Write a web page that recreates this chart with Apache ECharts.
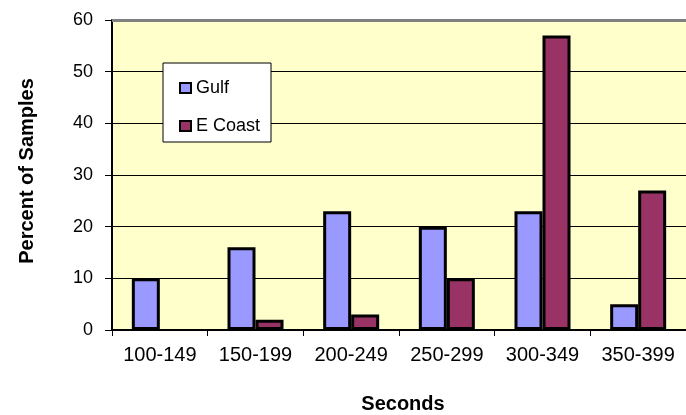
<!DOCTYPE html>
<html>
<head>
<meta charset="utf-8">
<script src="https://cdn.jsdelivr.net/npm/echarts@6/dist/echarts.min.js"></script>
<style>html,body{margin:0;padding:0;background:#fff;}#c{width:686px;height:415px;}</style>
</head>
<body>
<div id="c"></div>
<script>
const categories = ['100-149', '150-199', '200-249', '250-299', '300-349', '350-399'];
const gulf = [10, 16, 23, 20, 23, 5];
const eCoast = [0, 2, 3, 10, 57, 27];
const yTicks = [0, 10, 20, 30, 40, 50, 60];

const FONT = '"Liberation Sans", Arial, sans-serif';
// zero-height bars are not drawn at all (no outline), as in the reference
const noZero = arr => arr.map(v => v === 0 ? {value: v, itemStyle: {borderWidth: 0, opacity: 0}} : v);

const chart = echarts.init(document.getElementById('c'), null, {renderer: 'canvas'});
chart.setOption({
  backgroundColor: '#ffffff',
  animation: false,
  textStyle: {fontFamily: FONT, color: '#000'},
  grid: {left: 112, top: 20, right: -2, bottom: 85, show: true, backgroundColor: '#FFFFCC', borderWidth: 0},
  legend: {
    z: 100,
    orient: 'vertical', left: 174, top: 74, itemWidth: 11, itemHeight: 10, itemGap: 20,
    icon: 'rect',
    textStyle: {fontFamily: FONT, fontSize: 18, color: '#000'},
    data: ['Gulf', 'E Coast']
  },
  xAxis: {
    type: 'category', data: categories,
    axisLine: {lineStyle: {color: '#000', width: 2}},
    axisTick: {show: true, length: 6, lineStyle: {color: '#000', width: 1}},
    axisLabel: {fontFamily: FONT, fontSize: 20, color: '#000', margin: 15}
  },
  yAxis: {
    type: 'value', min: yTicks[0], max: yTicks[yTicks.length - 1], interval: 10,
    axisLine: {show: true, lineStyle: {color: '#000', width: 2}},
    axisTick: {show: true, length: 7, lineStyle: {color: '#000', width: 1}},
    axisLabel: {fontFamily: FONT, fontSize: 18, color: '#000', margin: 19},
    splitLine: {show: true, lineStyle: {color: '#000', width: 1}}
  },
  graphic: [
    {type: 'rect', z: 10, shape: {x: 163, y: 63, width: 108, height: 79}, style: {fill: '#fff', stroke: '#000', lineWidth: 1}},
    {type: 'text', x: 403, y: 404, style: {text: 'Seconds', font: 'bold 20px ' + FONT, fill: '#000', textAlign: 'center', textVerticalAlign: 'middle'}},
    {type: 'text', x: 27, y: 171, rotation: Math.PI / 2, style: {text: 'Percent of Samples', font: 'bold 20px ' + FONT, fill: '#000', textAlign: 'center', textVerticalAlign: 'middle'}}
  ],
  series: [
    {
      name: 'Gulf', type: 'bar', data: noZero(gulf), barWidth: 28, barGap: '0%',
      itemStyle: {color: '#9999FF', borderColor: '#000', borderWidth: 3},
      markLine: {silent: true, symbol: 'none', label: {show: false}, lineStyle: {color: '#808080', width: 3, type: 'solid'}, data: [{yAxis: 60}]}
    },
    {
      name: 'E Coast', type: 'bar', data: noZero(eCoast), barWidth: 28,
      itemStyle: {color: '#993366', borderColor: '#000', borderWidth: 3}
    }
  ]
});
</script>
</body>
</html>
